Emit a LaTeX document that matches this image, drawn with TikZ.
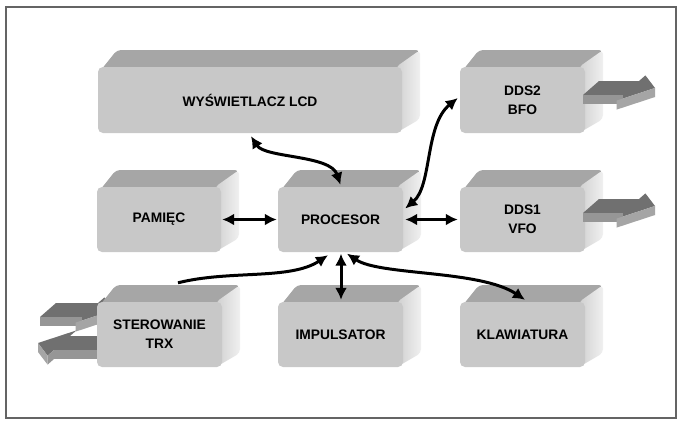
\documentclass[tikz,border=0pt]{standalone}
\usepackage{fontspec}
\setmainfont{Liberation Sans}
\usetikzlibrary{arrows.meta,calc}
\definecolor{frontc}{RGB}{200,200,200}
\definecolor{topc}{RGB}{166,166,166}
\definecolor{sidel}{RGB}{208,208,208}
\definecolor{sider}{RGB}{240,240,240}
\definecolor{slabtop}{RGB}{112,112,112}
\definecolor{slabfront}{RGB}{150,150,150}
\definecolor{slabedge}{RGB}{165,165,165}
\definecolor{framec}{RGB}{100,100,100}
\tikzset{
  blk/.style={fill=frontc, rounded corners=5pt, inner sep=0pt, align=center,
    font=\fontsize{13.8}{19}\selectfont\bfseries},
  dbl/.style={line width=3pt, arrows={Latex[length=12pt,width=12pt]-Latex[length=12pt,width=12pt]}},
  sgl/.style={line width=3pt, arrows={-Latex[length=12pt,width=12pt]}},
}
\newcommand\blockbox[6]{%
  \pgfmathsetmacro\bxa{#2-#4/2}\pgfmathsetmacro\bxb{#2+#4/2}%
  \pgfmathsetmacro\bya{#3-#5/2}\pgfmathsetmacro\byb{#3+#5/2}%
  \fill[topc,rounded corners=4pt] (\bxa+3,\bya+3) -- (\bxa+19,\bya-17) -- (\bxb+18,\bya-17) -- (\bxb,\bya+3) -- cycle;
  \shade[left color=sidel,right color=sider,rounded corners=4pt] (\bxb-6,\bya) -- (\bxb+18,\bya-17) -- (\bxb+18,\byb-14) -- (\bxb-6,\byb) -- cycle;
  \node[blk, minimum width=#4pt, minimum height=#5pt] (#1) at (#2,#3) {#6};
}
\newcommand\slabarrow[4]{%
  \begin{scope}[shift={(#1,#2)}, z={(0,9)}, y={(16,-14)}, x={(#3,0)}]
    \fill[slabtop] (0,0,0) -- (#4,0,0) -- (#4,-0.4,0) -- (#4+24,0.5,0) -- (#4,1.4,0) -- (#4,1,0) -- (0,1,0) -- cycle;
    \fill[slabfront] (0,0,0) -- (#4,0,0) -- (#4,0,1) -- (0,0,1) -- cycle;
    \ifnum#3<0 \fill[slabfront] (#4,0,0) -- (#4,-0.4,0) -- (#4,-0.4,1) -- (#4,0,1) -- cycle;\fi
    \fill[slabedge] (#4,-0.4,0) -- (#4+24,0.5,0) -- (#4+24,0.5,1) -- (#4,-0.4,1) -- cycle;
  \end{scope}}
\begin{document}
\begin{tikzpicture}[x=1pt,y=-1pt]
\useasboundingbox (0,0) rectangle (684,426);
\fill[white] (0,0) rectangle (684,426);
\draw[framec, line width=1.5pt] (6,7) rectangle (676,418);
% left slab arrows (behind the box)
\slabarrow{40}{317}{1}{42}
\slabarrow{98}{350}{-1}{44}
% boxes
\blockbox{lcd}{250}{100}{304}{66}{WYŚWIETLACZ LCD}
\blockbox{dds2}{522.5}{100}{125}{66}{DDS2\\BFO}
\blockbox{pam}{159}{219.5}{124}{65}{PAMIĘC}
\blockbox{proc}{340.5}{219.5}{125}{65}{PROCESOR}
\blockbox{dds1}{522.5}{219.5}{125}{65}{DDS1\\VFO}
\blockbox{ster}{159.5}{334.5}{125}{65}{STEROWANIE\\TRX}
\blockbox{imp}{340.5}{334.5}{125}{65}{IMPULSATOR}
\blockbox{klaw}{522.5}{334.5}{125}{65}{KLAWIATURA}
% right slab arrows
\slabarrow{583}{95}{1}{40}
\slabarrow{583}{213}{1}{40}
% connectors
\draw[dbl] ([shift={(1,3)}]lcd.south) .. controls +(14,22) and +(-10,-30) .. ([shift={(0,-2)}]proc.north);
\draw[dbl] ([shift={(2,-11)}]proc.east) .. controls +(27,-23) and +(-33,27) .. ([shift={(-2,-2)}]dds2.west);
\draw[dbl] ([shift={(1,0)}]pam.east) -- ([shift={(-1,0)}]proc.west);
\draw[dbl] ([shift={(2,0)}]proc.east) -- ([shift={(-2,0)}]dds1.west);
\draw[sgl] ([shift={(18.5,-19)}]ster.north) .. controls +(52,-13) and +(-38,25) .. ([shift={(-12.5,3)}]proc.south);
\draw[dbl] ([shift={(0.5,1.5)}]proc.south) -- ([shift={(0.5,-2)}]imp.north);
\draw[dbl] ([shift={(6.5,1.5)}]proc.south) .. controls +(33,22) and +(-45,-30) .. ([shift={(2.5,-2)}]klaw.north);
\end{tikzpicture}
\end{document}
